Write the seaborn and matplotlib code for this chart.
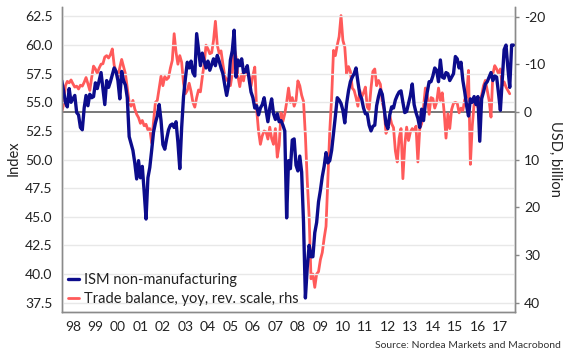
import numpy as np
import pandas as pd
import matplotlib
matplotlib.use('Agg')
import matplotlib.pyplot as plt
import seaborn as sns

# monthly values, Jan 1998 onwards
ism = [
    56.9, 56.0, 55.0, 54.6, 56.2, 55.0, 55.3, 55.6, 54.1, 53.9, 52.8, 52.6,  # 1998
    54.5, 55.6, 54.7, 55.7, 55.4, 55.5, 56.7, 56.2, 56.9, 57.6, 56.2, 54.8,  # 1999
    56.9, 56.3, 56.8, 57.4, 58.0, 57.7, 56.9, 55.3, 57.7, 56.9, 56.5, 55.4,  # 2000
    52.0, 51.4, 50.8, 49.7, 48.3, 49.9, 48.4, 49.4, 47.2, 44.8, 48.4, 49.3,  # 2001
    50.8, 52.4, 53.2, 53.8, 54.8, 53.4, 51.3, 50.9, 51.8, 52.6, 53.0, 53.1,  # 2002
    52.8, 53.3, 51.5, 49.2, 52.8, 55.5, 57.1, 58.5, 58.0, 58.6, 57.6, 57.3,  # 2003
    61.0, 59.6, 58.2, 59.3, 58.6, 58.0, 58.6, 57.8, 58.3, 58.8, 58.2, 59.1,  # 2004
    58.6, 58.0, 57.5, 56.5, 55.6, 56.5, 58.7, 59.5, 61.3, 57.2, 58.7, 58.2,  # 2005
    58.8, 57.6, 57.7, 58.2, 57.0, 55.9, 55.4, 54.5, 54.7, 53.9, 54.5, 54.8,  # 2006
    55.4, 54.3, 53.3, 54.5, 55.3, 54.0, 53.5, 54.0, 53.3, 53.4, 53.0, 52.5,  # 2007
    44.9, 49.9, 49.2, 51.7, 51.8, 49.5, 49.0, 50.3, 48.9, 44.5, 37.9, 40.6,  # 2008
    42.5, 41.5, 41.5, 43.6, 44.5, 46.3, 47.3, 48.5, 49.4, 50.6, 49.7, 49.9,  # 2009
    50.8, 52.3, 53.8, 55.4, 55.2, 54.9, 54.3, 53.2, 54.9, 56.0, 56.8, 57.2,  # 2010
    57.5, 58.0, 56.8, 55.7, 55.3, 54.5, 54.0, 54.0, 53.0, 52.5, 52.9, 53.0,  # 2011
    54.7, 55.5, 56.1, 55.7, 54.5, 53.1, 52.7, 53.9, 54.6, 54.5, 55.2, 55.6,  # 2012
    55.9, 56.0, 55.0, 54.1, 54.2, 54.9, 55.6, 56.6, 54.8, 54.1, 53.6, 52.8,  # 2013
    54.4, 53.4, 54.9, 55.9, 56.8, 56.8, 57.3, 58.0, 57.8, 56.8, 58.7, 57.2,  # 2014
    57.1, 57.6, 57.5, 56.9, 57.2, 57.5, 59.0, 58.8, 58.0, 58.5, 56.9, 55.9,  # 2015
    54.7, 53.8, 55.3, 55.0, 55.5, 54.8, 55.5, 51.6, 55.3, 55.9, 56.6, 56.8,  # 2016
    57.2, 57.6, 56.9, 57.3, 57.2, 55.8, 54.3, 57.0, 59.6, 60.0, 58.0, 56.3,  # 2017
    60.0, 60.0,                                                              # 2018
]

trade = [
    0.0, -1.5, -5.5, -6.4, -6.1, -6.7, -5.9, -5.2, -5.4, -4.8, -5.6, -5.4,  # 1998
    -6.2, -7.2, -5.9, -4.5, -7.2, -9.6, -9.0, -8.1, -9.2, -10.0, -10.1, -11.5,  # 1999
    -11.8, -11.3, -12.0, -13.2, -9.8, -8.5, -7.3, -9.3, -11.0, -9.5, -8.0, -5.0,  # 2000
    -2.0, -1.2, -2.4, -0.6, 0.5, 1.2, 2.4, 1.8, 2.9, 2.6, 3.8, 3.5,  # 2001
    6.5, 2.0, -2.0, -2.4, -5.0, -7.5, -5.5, -7.4, -6.8, -7.2, -9.2, -10.8,  # 2002
    -16.4, -12.5, -10.0, -11.8, -10.4, -6.0, -3.8, -4.5, -6.0, -4.3, -2.0, -1.0,  # 2003
    -3.0, -4.6, -4.2, -7.3, -10.0, -14.0, -13.2, -12.2, -12.4, -15.0, -19.0, -14.0,  # 2004
    -12.3, -12.8, -10.0, -7.5, -6.6, -7.0, -5.5, -8.0, -13.5, -11.5, -7.5, -5.3,  # 2005
    -7.9, -6.5, -8.8, -7.8, -7.5, -5.4, -7.6, -9.4, -0.5, 4.0, 6.8, 5.0,  # 2006
    4.0, 4.2, 5.7, 3.2, 5.6, 6.8, 3.5, 9.5, 7.0, 0.2, 2.0, 0.4,  # 2007
    -2.0, -5.0, -2.0, -3.0, -1.2, -2.4, -6.5, -5.5, -3.5, -2.2, 5.0, 14.5,  # 2008
    22.0, 35.0, 34.0, 36.8, 34.0, 33.5, 31.0, 29.5, 26.5, 24.0, 14.0, 4.0,  # 2009
    -3.0, -12.9, -11.8, -14.0, -15.8, -20.2, -15.0, -13.6, -8.0, -9.5, -8.5, -5.0,  # 2010
    -4.5, -3.0, -1.2, -4.5, -3.1, -4.0, -5.2, -1.0, -0.5, -5.0, -8.5, -9.0,  # 2011
    -5.5, -6.6, -5.8, -2.0, -0.5, 4.5, 3.0, 0.8, 2.5, 3.3, 8.2, 10.5,  # 2012
    5.5, 3.5, 14.0, 7.0, 3.2, 6.0, 4.2, 3.5, 4.0, 3.0, 10.5, 3.5,  # 2013
    2.5, -1.0, -5.0, -3.5, 0.5, -3.0, -2.8, -0.8, -2.0, -5.0, -2.4, -4.0,  # 2014
    0.0, 5.5, 0.4, 3.5, -0.5, -1.8, -2.0, -1.8, 0.2, -0.8, -0.3, -2.6,  # 2015
    -3.1, -8.7, 11.0, 3.0, -1.7, -2.4, -1.0, -2.4, -3.5, -5.5, -6.6, -4.5,  # 2016
    -2.4, 1.1, -8.0, -9.7, -9.0, -8.0, -9.0, -5.5, -6.3, -5.2, -4.5, -3.8,  # 2017
]

year_labels = ['98', '99', '00', '01', '02', '03', '04', '05', '06', '07',
               '08', '09', '10', '11', '12', '13', '14', '15', '16', '17']
left_ticks = [37.5, 40.0, 42.5, 45.0, 47.5, 50.0, 52.5, 55.0, 57.5, 60.0, 62.5]
right_ticks = [-20, -10, 0, 10, 20, 30, 40]

blue = '#0c0c8c'
red = '#ff5a5a'


def dec_year(dates):
    return np.asarray(dates.year + (dates.month - 1) / 12.0, dtype=float)


ism_x = dec_year(pd.date_range('1998-01-01', periods=len(ism), freq='MS'))
trade_x = dec_year(pd.date_range('1998-01-01', periods=len(trade), freq='MS'))

sns.set_style('white')
plt.rcParams['font.family'] = ['Lato', 'DejaVu Sans']
plt.rcParams['text.color'] = '#222222'

fig = plt.figure(figsize=(5.7, 3.6), dpi=100)
ax = fig.add_axes([0.1082, 0.1342, 0.7953, 0.8464])
ax2 = ax.twinx()
ax.set_zorder(ax2.get_zorder() + 1)
ax.patch.set_visible(False)

# trade balance on the reversed right scale
sns.lineplot(x=trade_x, y=trade, ax=ax2, color=red, linewidth=2.0)
red_line = ax2.lines[-1]
ax2.axhline(0, color='#555555', linewidth=1.1, zorder=1)

# ISM on the left scale
sns.lineplot(x=ism_x, y=ism, ax=ax, color=blue, linewidth=2.4)
blue_line = ax.lines[-1]

ax.set_xlim(1998.0, 2018.15)
ax.set_ylim(36.7, 63.33)
ax2.set_ylim(41.9, -22.0)

ax.set_xticks(np.arange(1998, 2019))
ax.set_xticklabels([])
ax.set_xticks(np.arange(1998, 2018) + 0.5, minor=True)
ax.set_xticklabels(year_labels, minor=True)
ax.tick_params(axis='x', which='major', length=4, width=1, color='#888888', direction='out')
ax.tick_params(axis='x', which='minor', length=0, pad=7, labelsize=10, labelcolor='#222222')

ax.set_yticks(left_ticks)
ax.set_yticklabels([f'{v:.1f}' for v in left_ticks])
ax.tick_params(axis='y', length=0, pad=6.5, labelsize=10, labelcolor='#222222')
ax.yaxis.grid(True, color='#e8e8e8', linewidth=1.0)
ax.xaxis.grid(False)

ax2.set_yticks(right_ticks)
ax2.set_yticklabels([str(v) for v in right_ticks])
ax2.tick_params(axis='y', length=3, width=1, color='#888888', pad=3.5,
                labelsize=10, labelcolor='#222222')
ax.set_xlabel('')
ax.set_ylabel('')
ax2.set_ylabel('')

for a in (ax, ax2):
    a.spines['top'].set_visible(False)
    for s in ('left', 'right', 'bottom'):
        a.spines[s].set_color('#8a8a8a')
        a.spines[s].set_linewidth(1.0)

fig.text(14 / 570, 1 - 158 / 360, 'Index', rotation=90, ha='center', va='center', fontsize=10.5)
fig.text(555 / 570, 1 - 159 / 360, 'USD, billion', rotation=270, ha='center', va='center', fontsize=10.5)
fig.text(561 / 570, 1 - 346 / 360, 'Source: Nordea Markets and Macrobond',
         ha='right', va='center', fontsize=7.5, color='#333333')

ax.legend([blue_line, red_line],
          ['ISM non-manufacturing', 'Trade balance, yoy, rev. scale, rhs'],
          loc='lower left', bbox_to_anchor=(0.0, 0.0), frameon=False,
          fontsize=10.5, handlelength=0.8, handletextpad=0.3,
          labelspacing=0.35, borderaxespad=0.2, borderpad=0.2)

fig.savefig('out.png', dpi=100)
